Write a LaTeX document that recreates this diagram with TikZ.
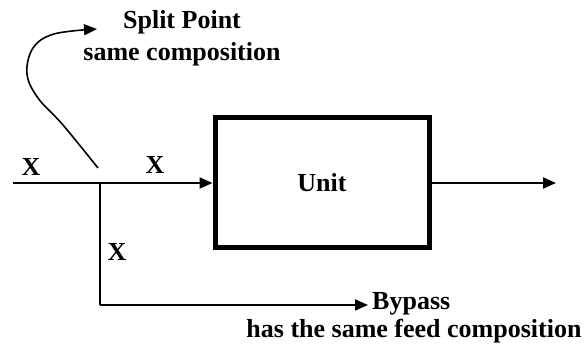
\documentclass[tikz,border=0pt]{standalone}
\usepackage{fontspec}
\setmainfont{Liberation Serif}
\usetikzlibrary{arrows.meta,positioning}
\tikzset{
	flow/.style={line width=2pt,-{Triangle[length=13pt,width=11pt]}},
	lbl/.style={font=\fontsize{26}{30}\selectfont\bfseries,inner sep=0pt},
}

\begin{document}
\begin{tikzpicture}[x=1pt,y=-1pt]
				\useasboundingbox (0,0) rectangle (584,352);
				
				\node[draw,line width=5pt,minimum width=214pt,minimum height=130pt,lbl] (unit) at (322,183) {Unit};
				
				\coordinate (feed) at (13,183);
				\coordinate (split) at (100,183);
				\coordinate (corner) at (100,305);
				\coordinate (bypass) at (368,305);
				\coordinate (out) at (556,183);
				
				\draw[line width=2pt] (feed) -- (split);
				\draw[flow] (split) -- (unit.west);
				\draw[flow] (unit.east) -- (out);
				\draw[line width=2pt,line join=round] (split) -- (corner);
				\draw[flow] (corner) -- (bypass);
				
				\node[lbl] (x1) at (31,167) {X};
				\node[lbl] (x2) at (155,165) {X};
				\node[lbl] (x3) at (117,252) {X};
				
				\node[lbl] (sp) at (182,22) {Split Point};
				\node[lbl] (sc) at (182,54) {same composition};
				\coordinate (tail) at (98,168);
				\coordinate (tip) at (97,29);
				\draw[flow,line width=1.6pt] plot[smooth,tension=0.6] coordinates {(tail) (63,125) (38,98) (27,74) (33,48) (54,34) (tip)};
				
				\node[lbl,anchor=west] (bp) at (372,304) {Bypass};
				\node[lbl] (bc) at (414,331) {has the same feed composition};
			\end{tikzpicture}
\end{document}
